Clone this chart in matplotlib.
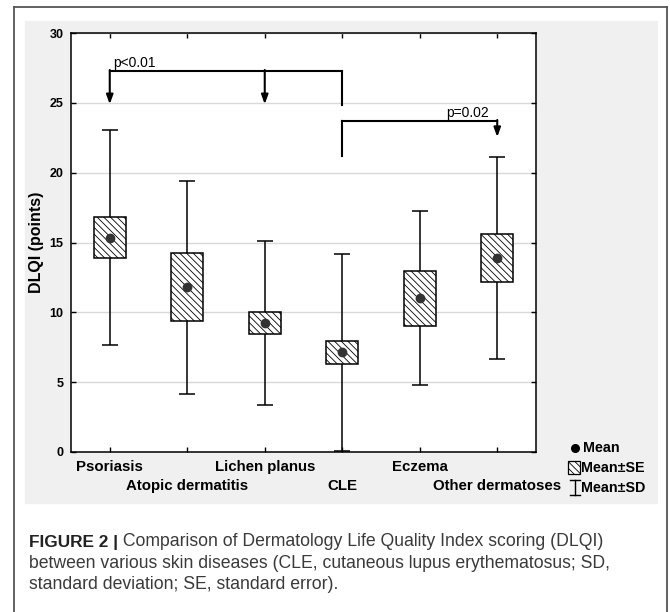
import matplotlib
matplotlib.use("Agg")
import matplotlib.pyplot as plt
from matplotlib.lines import Line2D
from matplotlib.patches import Rectangle

# ===== Data ===================================================================

categories = ["Psoriasis", "Atopic dermatitis", "Lichen planus",
              "CLE", "Eczema", "Other dermatoses"]
means = [15.35, 11.8, 9.25, 7.13, 11.0, 13.9]
se = [1.48, 2.42, 0.77, 0.8, 1.96, 1.72]
sd = [7.72, 7.62, 5.85, 7.05, 6.22, 7.22]

# significance brackets
bracket1_level = 27.3
bracket1_arrows = [0, 2]
bracket1_tip = 24.9
bracket1_label = "p<0.01"
bracket2_level = 23.72
bracket2_arrow_tip = 22.55
bracket2_stem = 21.2
bracket2_label = "p=0.02"

caption_lines = [
    "Comparison of Dermatology Life Quality Index scoring (DLQI)",
    "between various skin diseases (CLE, cutaneous lupus erythematosus; SD,",
    "standard deviation; SE, standard error).",
]

# ===== Figure =================================================================

plt.rcParams["font.family"] = ["Liberation Sans", "DejaVu Sans"]
plt.rcParams["hatch.linewidth"] = 0.6
plt.rcParams["hatch.color"] = "#444444"

W, H = 670, 612
fig = plt.figure(figsize=(W / 100, H / 100), dpi=100)


def fx(px):
    return px / W


def fy(py):
    return 1 - py / H


# outer frame and gray panel
fig.add_artist(Rectangle((fx(25), fy(503)), fx(657) - fx(25), fy(21) - fy(503),
                         transform=fig.transFigure, color="#f0f0f0", zorder=0))
frame_kw = dict(transform=fig.transFigure, color="#555555", lw=1.3)
fig.add_artist(Line2D([fx(14), fx(14)], [0, fy(7)], **frame_kw))
fig.add_artist(Line2D([fx(14), fx(667)], [fy(7), fy(7)], **frame_kw))
fig.add_artist(Line2D([fx(667), fx(667)], [fy(7), 0], **frame_kw))

ax = fig.add_axes([fx(71), fy(452), fx(536) - fx(71), fy(33) - fy(452)])
ax.set_facecolor("white")

x = list(range(len(categories)))

# whiskers (mean +- SD)
ax.errorbar(x, means, yerr=sd, fmt="none", ecolor="black", elinewidth=1.1,
            capsize=5.8, capthick=1.1, zorder=2)
# boxes (mean +- SE)
ax.bar(x, [2 * s for s in se], bottom=[m - s for m, s in zip(means, se)],
       width=0.41, color="white", edgecolor="black", linewidth=1.1,
       hatch="\\\\\\\\\\", zorder=3)
# means
ax.plot(x, means, "o", color="#333333", markersize=6, zorder=4)

# significance brackets
arrow_kw = dict(arrowstyle="-|>,head_length=0.55,head_width=0.2",
                color="black", lw=1.5, mutation_scale=10, shrinkA=0, shrinkB=0)
ax.plot([0, 3], [bracket1_level] * 2, color="black", lw=1.5, zorder=5)
for xa in bracket1_arrows:
    ax.annotate("", xy=(xa, bracket1_tip), xytext=(xa, bracket1_level + 0.05),
                arrowprops=arrow_kw)
ax.plot([3, 3], [bracket1_level, bracket1_tip - 0.05], color="black", lw=1.5)
ax.text(0.04, bracket1_level + 0.08, bracket1_label, fontsize=10,
        ha="left", va="bottom")

ax.plot([3, 5], [bracket2_level] * 2, color="black", lw=1.5, zorder=5)
ax.plot([3, 3], [bracket2_level, bracket2_stem], color="black", lw=1.5)
ax.annotate("", xy=(5, bracket2_arrow_tip), xytext=(5, bracket2_level + 0.05),
            arrowprops=arrow_kw)
ax.text(4.62, bracket2_level + 0.08, bracket2_label, fontsize=10,
        ha="center", va="bottom")

# axes styling
ax.set_xlim(-0.5, 5.5)
ax.set_ylim(0, 30)
ax.set_yticks(range(0, 31, 5))
ax.grid(axis="y", color="#d9d9d9", lw=1.0, zorder=0)
ax.set_axisbelow(True)
for sp in ax.spines.values():
    sp.set_linewidth(1.1)

ax.set_xticks(x[0::2])
ax.set_xticklabels(categories[0::2])
ax.set_xticks(x[1::2], minor=True)
ax.set_xticklabels(categories[1::2], minor=True)
ax.tick_params(axis="x", which="both", direction="in", top=True, length=3.5,
               width=1.0, labelsize=10.8)
ax.tick_params(axis="x", which="major", pad=5.8)
ax.tick_params(axis="x", which="minor", pad=19.5)
ax.tick_params(axis="y", direction="in", right=True, length=3.5, width=1.0,
               labelsize=9, pad=5.5)
for lab in ax.get_xticklabels(which="both") + ax.get_yticklabels():
    lab.set_fontweight("bold")

ax.set_ylabel("DLQI (points)", fontsize=11.5, fontweight="bold")
ax.yaxis.set_label_coords(-0.058, 0.5)

# legend (drawn by hand, outside the axes)
fig.text(fx(583), fy(448), "Mean", fontsize=10.3, fontweight="bold",
         va="center", ha="left")
fig.text(fx(581), fy(468), "Mean\u00b1SE", fontsize=10.3, fontweight="bold",
         va="center", ha="left")
fig.text(fx(581), fy(488), "Mean\u00b1SD", fontsize=10.3, fontweight="bold",
         va="center", ha="left")
fig.add_artist(Line2D([fx(574.5)], [fy(447.5)], marker="o", color="black",
                      markersize=5.5, transform=fig.transFigure))
fig.add_artist(Rectangle((fx(568), fy(474)), fx(580) - fx(568), fy(461) - fy(474),
                         transform=fig.transFigure, facecolor="white",
                         edgecolor="black", lw=0.9, hatch="\\\\\\\\\\"))
sd_kw = dict(transform=fig.transFigure, color="black", lw=1.0)
fig.add_artist(Line2D([fx(574.5), fx(574.5)], [fy(480), fy(495)], **sd_kw))
fig.add_artist(Line2D([fx(569.5), fx(579.5)], [fy(480), fy(480)], **sd_kw))
fig.add_artist(Line2D([fx(569.5), fx(579.5)], [fy(495), fy(495)], **sd_kw))

# caption
cap_size = 12.7
t1 = fig.text(fx(29), fy(547), "FIGURE 2 |", fontsize=cap_size - 0.3,
              fontweight="bold", color="#222222", va="baseline", ha="left")
ax.annotate(" " + caption_lines[0], xy=(1, 0), xycoords=t1, fontsize=cap_size,
            color="#3a3a3a", va="bottom", ha="left", annotation_clip=False)
fig.text(fx(29), fy(568), caption_lines[1], fontsize=cap_size,
         color="#3a3a3a", va="baseline", ha="left")
fig.text(fx(29), fy(589), caption_lines[2], fontsize=cap_size,
         color="#3a3a3a", va="baseline", ha="left")

fig.savefig("out.png", dpi=100, facecolor="white")
